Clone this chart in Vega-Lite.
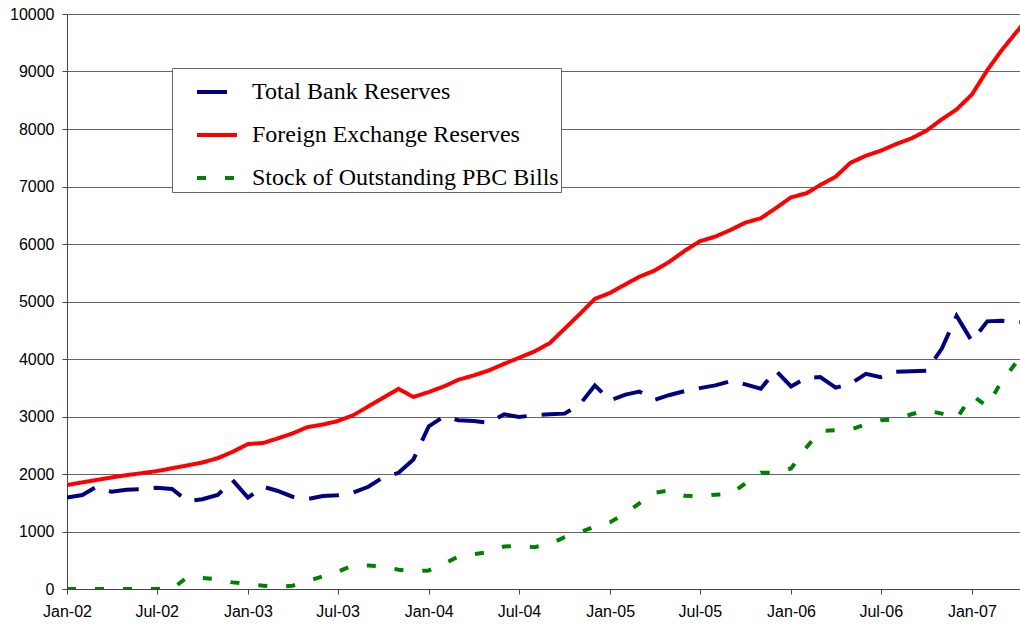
{
  "$schema": "https://vega.github.io/schema/vega-lite/v6.json",
  "width": 953,
  "height": 575,
  "autosize": {"type": "none"},
  "padding": {"left": 67, "top": 14, "right": 0, "bottom": 38},
  "background": "white",
  "config": {
    "view": {"stroke": null},
    "axis": {"labelFont": "Liberation Sans", "labelFontSize": 16, "labelColor": "black", "domainColor": "#444", "tickColor": "#444", "tickSize": 5, "gridColor": "#666", "gridWidth": 1, "title": null},
    "legend": {"orient": "none", "legendX": 105, "legendY": 54, "padding": 2, "fillColor": "white", "strokeColor": "#666", "labelFont": "Liberation Serif", "labelFontSize": 24, "labelColor": "black", "symbolSize": 1600, "symbolStrokeWidth": 4, "symbolType": "stroke", "rowPadding": 9, "symbolOffset": 21, "labelOffset": 13, "labelLimit": 500}
  },
  "data": {"values": [
    {"date": "2002-01-01", "Total Bank Reserves": 1590, "Foreign Exchange Reserves": 1808, "Stock of Outstanding PBC Bills": 0},
    {"date": "2002-02-01", "Total Bank Reserves": 1635, "Foreign Exchange Reserves": 1855, "Stock of Outstanding PBC Bills": 0},
    {"date": "2002-03-01", "Total Bank Reserves": 1775, "Foreign Exchange Reserves": 1895, "Stock of Outstanding PBC Bills": 0},
    {"date": "2002-04-01", "Total Bank Reserves": 1690, "Foreign Exchange Reserves": 1940, "Stock of Outstanding PBC Bills": 0},
    {"date": "2002-05-01", "Total Bank Reserves": 1725, "Foreign Exchange Reserves": 1980, "Stock of Outstanding PBC Bills": 0},
    {"date": "2002-06-01", "Total Bank Reserves": 1735, "Foreign Exchange Reserves": 2015, "Stock of Outstanding PBC Bills": 0},
    {"date": "2002-07-01", "Total Bank Reserves": 1760, "Foreign Exchange Reserves": 2050, "Stock of Outstanding PBC Bills": 0},
    {"date": "2002-08-01", "Total Bank Reserves": 1740, "Foreign Exchange Reserves": 2100, "Stock of Outstanding PBC Bills": 0},
    {"date": "2002-09-01", "Total Bank Reserves": 1530, "Foreign Exchange Reserves": 2150, "Stock of Outstanding PBC Bills": 208},
    {"date": "2002-10-01", "Total Bank Reserves": 1560, "Foreign Exchange Reserves": 2200, "Stock of Outstanding PBC Bills": 190},
    {"date": "2002-11-01", "Total Bank Reserves": 1634, "Foreign Exchange Reserves": 2275, "Stock of Outstanding PBC Bills": 173},
    {"date": "2002-12-01", "Total Bank Reserves": 1894, "Foreign Exchange Reserves": 2385, "Stock of Outstanding PBC Bills": 115},
    {"date": "2003-01-01", "Total Bank Reserves": 1588, "Foreign Exchange Reserves": 2520, "Stock of Outstanding PBC Bills": 87},
    {"date": "2003-02-01", "Total Bank Reserves": 1778, "Foreign Exchange Reserves": 2540, "Stock of Outstanding PBC Bills": 58},
    {"date": "2003-03-01", "Total Bank Reserves": 1709, "Foreign Exchange Reserves": 2615, "Stock of Outstanding PBC Bills": 35},
    {"date": "2003-04-01", "Total Bank Reserves": 1605, "Foreign Exchange Reserves": 2705, "Stock of Outstanding PBC Bills": 58},
    {"date": "2003-05-01", "Total Bank Reserves": 1565, "Foreign Exchange Reserves": 2815, "Stock of Outstanding PBC Bills": 133},
    {"date": "2003-06-01", "Total Bank Reserves": 1617, "Foreign Exchange Reserves": 2860, "Stock of Outstanding PBC Bills": 220},
    {"date": "2003-07-01", "Total Bank Reserves": 1630, "Foreign Exchange Reserves": 2920, "Stock of Outstanding PBC Bills": 300},
    {"date": "2003-08-01", "Total Bank Reserves": 1674, "Foreign Exchange Reserves": 3020, "Stock of Outstanding PBC Bills": 410},
    {"date": "2003-09-01", "Total Bank Reserves": 1778, "Foreign Exchange Reserves": 3175, "Stock of Outstanding PBC Bills": 410},
    {"date": "2003-10-01", "Total Bank Reserves": 1941, "Foreign Exchange Reserves": 3325, "Stock of Outstanding PBC Bills": 393},
    {"date": "2003-11-01", "Total Bank Reserves": 2021, "Foreign Exchange Reserves": 3480, "Stock of Outstanding PBC Bills": 335},
    {"date": "2003-12-01", "Total Bank Reserves": 2253, "Foreign Exchange Reserves": 3340, "Stock of Outstanding PBC Bills": 306},
    {"date": "2004-01-01", "Total Bank Reserves": 2830, "Foreign Exchange Reserves": 3425, "Stock of Outstanding PBC Bills": 323},
    {"date": "2004-02-01", "Total Bank Reserves": 3003, "Foreign Exchange Reserves": 3525, "Stock of Outstanding PBC Bills": 439},
    {"date": "2004-03-01", "Total Bank Reserves": 2934, "Foreign Exchange Reserves": 3640, "Stock of Outstanding PBC Bills": 566},
    {"date": "2004-04-01", "Total Bank Reserves": 2922, "Foreign Exchange Reserves": 3715, "Stock of Outstanding PBC Bills": 606},
    {"date": "2004-05-01", "Total Bank Reserves": 2888, "Foreign Exchange Reserves": 3800, "Stock of Outstanding PBC Bills": 641},
    {"date": "2004-06-01", "Total Bank Reserves": 3038, "Foreign Exchange Reserves": 3915, "Stock of Outstanding PBC Bills": 739},
    {"date": "2004-07-01", "Total Bank Reserves": 2992, "Foreign Exchange Reserves": 4020, "Stock of Outstanding PBC Bills": 751},
    {"date": "2004-08-01", "Total Bank Reserves": 3021, "Foreign Exchange Reserves": 4130, "Stock of Outstanding PBC Bills": 728},
    {"date": "2004-09-01", "Total Bank Reserves": 3038, "Foreign Exchange Reserves": 4275, "Stock of Outstanding PBC Bills": 780},
    {"date": "2004-10-01", "Total Bank Reserves": 3050, "Foreign Exchange Reserves": 4525, "Stock of Outstanding PBC Bills": 901},
    {"date": "2004-11-01", "Total Bank Reserves": 3211, "Foreign Exchange Reserves": 4785, "Stock of Outstanding PBC Bills": 988},
    {"date": "2004-12-01", "Total Bank Reserves": 3541, "Foreign Exchange Reserves": 5045, "Stock of Outstanding PBC Bills": 1086},
    {"date": "2005-01-01", "Total Bank Reserves": 3281, "Foreign Exchange Reserves": 5150, "Stock of Outstanding PBC Bills": 1161},
    {"date": "2005-02-01", "Total Bank Reserves": 3380, "Foreign Exchange Reserves": 5300, "Stock of Outstanding PBC Bills": 1317},
    {"date": "2005-03-01", "Total Bank Reserves": 3432, "Foreign Exchange Reserves": 5430, "Stock of Outstanding PBC Bills": 1490},
    {"date": "2005-04-01", "Total Bank Reserves": 3290, "Foreign Exchange Reserves": 5540, "Stock of Outstanding PBC Bills": 1675},
    {"date": "2005-05-01", "Total Bank Reserves": 3375, "Foreign Exchange Reserves": 5694, "Stock of Outstanding PBC Bills": 1715},
    {"date": "2005-06-01", "Total Bank Reserves": 3442, "Foreign Exchange Reserves": 5885, "Stock of Outstanding PBC Bills": 1622},
    {"date": "2005-07-01", "Total Bank Reserves": 3494, "Foreign Exchange Reserves": 6048, "Stock of Outstanding PBC Bills": 1611},
    {"date": "2005-08-01", "Total Bank Reserves": 3541, "Foreign Exchange Reserves": 6128, "Stock of Outstanding PBC Bills": 1640},
    {"date": "2005-09-01", "Total Bank Reserves": 3615, "Foreign Exchange Reserves": 6245, "Stock of Outstanding PBC Bills": 1652},
    {"date": "2005-10-01", "Total Bank Reserves": 3558, "Foreign Exchange Reserves": 6372, "Stock of Outstanding PBC Bills": 1837},
    {"date": "2005-11-01", "Total Bank Reserves": 3483, "Foreign Exchange Reserves": 6448, "Stock of Outstanding PBC Bills": 2022},
    {"date": "2005-12-01", "Total Bank Reserves": 3801, "Foreign Exchange Reserves": 6622, "Stock of Outstanding PBC Bills": 2022},
    {"date": "2006-01-01", "Total Bank Reserves": 3523, "Foreign Exchange Reserves": 6812, "Stock of Outstanding PBC Bills": 2097},
    {"date": "2006-02-01", "Total Bank Reserves": 3674, "Foreign Exchange Reserves": 6882, "Stock of Outstanding PBC Bills": 2461},
    {"date": "2006-03-01", "Total Bank Reserves": 3685, "Foreign Exchange Reserves": 7026, "Stock of Outstanding PBC Bills": 2750},
    {"date": "2006-04-01", "Total Bank Reserves": 3501, "Foreign Exchange Reserves": 7170, "Stock of Outstanding PBC Bills": 2761},
    {"date": "2006-05-01", "Total Bank Reserves": 3570, "Foreign Exchange Reserves": 7413, "Stock of Outstanding PBC Bills": 2773},
    {"date": "2006-06-01", "Total Bank Reserves": 3743, "Foreign Exchange Reserves": 7535, "Stock of Outstanding PBC Bills": 2865},
    {"date": "2006-07-01", "Total Bank Reserves": 3685, "Foreign Exchange Reserves": 7622, "Stock of Outstanding PBC Bills": 2935},
    {"date": "2006-08-01", "Total Bank Reserves": 3778, "Foreign Exchange Reserves": 7738, "Stock of Outstanding PBC Bills": 2952},
    {"date": "2006-09-01", "Total Bank Reserves": 3789, "Foreign Exchange Reserves": 7837, "Stock of Outstanding PBC Bills": 3039},
    {"date": "2006-10-01", "Total Bank Reserves": 3795, "Foreign Exchange Reserves": 7969, "Stock of Outstanding PBC Bills": 3108},
    {"date": "2006-11-01", "Total Bank Reserves": 4176, "Foreign Exchange Reserves": 8167, "Stock of Outstanding PBC Bills": 3050},
    {"date": "2006-12-01", "Total Bank Reserves": 4750, "Foreign Exchange Reserves": 8340, "Stock of Outstanding PBC Bills": 2963},
    {"date": "2007-01-01", "Total Bank Reserves": 4309, "Foreign Exchange Reserves": 8600, "Stock of Outstanding PBC Bills": 3368},
    {"date": "2007-02-01", "Total Bank Reserves": 4655, "Foreign Exchange Reserves": 9023, "Stock of Outstanding PBC Bills": 3177},
    {"date": "2007-03-01", "Total Bank Reserves": 4667, "Foreign Exchange Reserves": 9358, "Stock of Outstanding PBC Bills": 3599},
    {"date": "2007-04-01", "Total Bank Reserves": 4638, "Foreign Exchange Reserves": 9688, "Stock of Outstanding PBC Bills": 3945},
    {"date": "2007-05-01", "Total Bank Reserves": 4640, "Foreign Exchange Reserves": 10000, "Stock of Outstanding PBC Bills": 4050}
  ]},
  "transform": [
    {"fold": ["Total Bank Reserves", "Foreign Exchange Reserves", "Stock of Outstanding PBC Bills"], "as": ["series", "value"]}
  ],
  "mark": {"type": "line", "strokeWidth": 4, "clip": true},
  "encoding": {
    "x": {
      "field": "date", "type": "temporal",
      "scale": {"type": "utc", "domain": [1009843200000, 1175990400000]},
      "axis": {"grid": false, "labelExpr": "utcFormat(datum.value, '%b-%y')", "labelPadding": 9, "labelOverlap": false, "labelFlush": false,
        "values": [1009843200000, 1025481600000, 1041379200000, 1057017600000, 1072915200000, 1088640000000, 1104537600000, 1120176000000, 1136073600000, 1151712000000, 1167609600000]}
    },
    "y": {
      "field": "value", "type": "quantitative",
      "scale": {"domain": [0, 10000], "nice": false},
      "axis": {"grid": true, "values": [0, 1000, 2000, 3000, 4000, 5000, 6000, 7000, 8000, 9000, 10000], "format": "d", "labelPadding": 8}
    },
    "color": {
      "field": "series", "type": "nominal",
      "scale": {"domain": ["Total Bank Reserves", "Foreign Exchange Reserves", "Stock of Outstanding PBC Bills"], "range": ["#000080", "#FF0000", "#008000"]},
      "legend": {"title": null}
    },
    "strokeDash": {
      "field": "series", "type": "nominal",
      "scale": {"domain": ["Total Bank Reserves", "Foreign Exchange Reserves", "Stock of Outstanding PBC Bills"], "range": [[30, 15], [1, 0], [9, 19]]},
      "legend": {"title": null}
    }
  }
}
